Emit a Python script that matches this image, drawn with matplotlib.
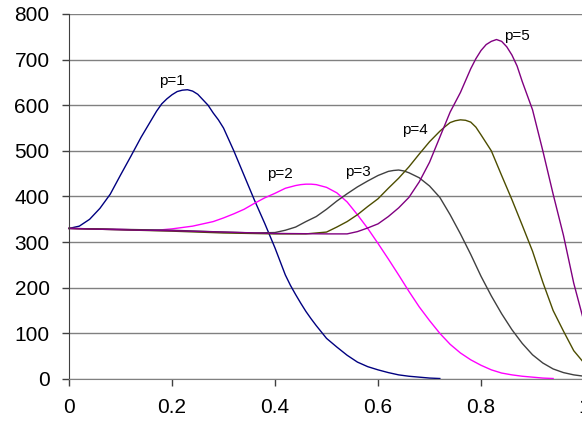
# Excel-style line chart: five p-curves over x in [0, 1]

import numpy as np
import matplotlib
matplotlib.use('Agg')
import matplotlib.pyplot as plt

plt.rcParams['font.family'] = ['Liberation Sans', 'DejaVu Sans']

# values
x_p1 = [0, 0.02, 0.04, 0.06, 0.08, 0.10, 0.12, 0.14, 0.16, 0.17, 0.18, 0.19, 0.20,
        0.21, 0.22, 0.23, 0.24, 0.25, 0.26, 0.27, 0.28, 0.29, 0.30, 0.32, 0.34,
        0.36, 0.38, 0.40, 0.42, 0.43, 0.44, 0.45, 0.46, 0.47, 0.48, 0.49, 0.50,
        0.52, 0.54, 0.56, 0.58, 0.60, 0.62, 0.64, 0.66, 0.68, 0.70, 0.72]
y_p1 = [330, 335, 350, 374, 405, 447, 488, 530, 568, 587, 603, 614, 623,
        630, 633, 634, 631, 624, 612, 600, 583, 568, 550, 500, 446,
        392, 341, 287, 228, 205, 185, 166, 148, 132, 117, 103, 89,
        70, 52, 37, 27, 20, 14, 9, 6, 4, 2, 1]

x_p2 = [0, 0.05, 0.10, 0.15, 0.18, 0.20, 0.22, 0.24, 0.26, 0.28, 0.30, 0.32, 0.34,
        0.36, 0.38, 0.40, 0.42, 0.44, 0.45, 0.46, 0.47, 0.48, 0.50, 0.52, 0.54,
        0.56, 0.58, 0.60, 0.62, 0.64, 0.66, 0.68, 0.70, 0.72, 0.74, 0.76, 0.78,
        0.80, 0.82, 0.84, 0.86, 0.88, 0.90, 0.92, 0.94]
y_p2 = [330, 329, 328, 326, 327, 329, 332, 335, 340, 345, 353, 362, 372,
        385, 397, 407, 418, 424, 426, 427, 427, 426, 420, 408, 388,
        360, 330, 297, 263, 228, 192, 158, 128, 100, 76, 57, 42,
        30, 20, 13, 9, 6, 4, 2, 1]

x_p3 = [0, 0.10, 0.20, 0.30, 0.36, 0.40, 0.42, 0.44, 0.46, 0.48, 0.50, 0.52, 0.54,
        0.56, 0.58, 0.60, 0.62, 0.63, 0.64, 0.65, 0.66, 0.68, 0.70, 0.72, 0.74,
        0.76, 0.78, 0.80, 0.82, 0.84, 0.86, 0.88, 0.90, 0.92, 0.94, 0.96, 0.98,
        1.00]
y_p3 = [330, 328, 326, 322, 320, 321, 326, 333, 345, 356, 372, 390, 406,
        421, 434, 446, 455, 457, 458, 456, 452, 441, 423, 398, 360,
        318, 273, 225, 182, 143, 108, 78, 53, 35, 22, 14, 9,
        6]

x_p4 = [0, 0.10, 0.20, 0.30, 0.40, 0.46, 0.50, 0.52, 0.54, 0.56, 0.58, 0.60, 0.62,
        0.64, 0.66, 0.68, 0.70, 0.72, 0.73, 0.74, 0.75, 0.76, 0.77, 0.78, 0.79,
        0.80, 0.82, 0.84, 0.86, 0.88, 0.90, 0.92, 0.94, 0.96, 0.98, 1.00]
y_p4 = [330, 327, 324, 320, 318, 318, 322, 333, 345, 360, 378, 395, 418,
        440, 465, 493, 520, 543, 553, 562, 566, 568, 567, 563, 552,
        535, 500, 446, 393, 337, 280, 212, 150, 105, 62, 35]

x_p5 = [0, 0.10, 0.20, 0.30, 0.40, 0.50, 0.54, 0.56, 0.58, 0.60, 0.62, 0.64, 0.66,
        0.68, 0.70, 0.72, 0.74, 0.76, 0.78, 0.79, 0.80, 0.81, 0.82, 0.83, 0.84,
        0.85, 0.86, 0.87, 0.88, 0.90, 0.92, 0.94, 0.96, 0.98, 1.00]
y_p5 = [330, 327, 325, 322, 319, 318, 318, 323, 331, 340, 356, 375, 398,
        432, 475, 530, 585, 628, 680, 702, 720, 733, 740, 744, 740,
        728, 710, 686, 652, 590, 500, 405, 315, 210, 125]

labels = ['p=1', 'p=2', 'p=3', 'p=4', 'p=5']
label_x = [0.20, 0.41, 0.561, 0.672, 0.87]
label_y = [653, 449, 454, 546, 751]
colors = ['#000080', '#FF00FF', '#404040', '#4D4D00', '#800080']

fig = plt.figure(figsize=(5.82, 4.29), dpi=100)
ax = fig.add_axes([0.1186, 0.1166, 0.8849, 0.8508])

ax.set_xlim(0, 1)
ax.set_ylim(0, 800)
ax.set_yticks(np.arange(0, 801, 100))
ax.set_xticks([0, 0.2, 0.4, 0.6, 0.8, 1.0])
ax.set_xticklabels(['0', '0.2', '0.4', '0.6', '0.8', '1'])
ax.yaxis.grid(True, color='#808080', linewidth=1.0)
ax.set_axisbelow(True)

series = [(x_p1, y_p1), (x_p2, y_p2), (x_p3, y_p3), (x_p4, y_p4), (x_p5, y_p5)]
for (xs, ys), c in zip(series, colors):
    ax.plot(xs, ys, color=c, linewidth=1.0, clip_on=False)

for lab, lx, ly in zip(labels, label_x, label_y):
    ax.text(lx, ly, lab, fontsize=11, ha='center', va='center', color='black')

for side in ['top', 'right']:
    ax.spines[side].set_visible(False)
ax.spines['left'].set_color('#404040')
ax.spines['bottom'].set_color('#808080')
ax.tick_params(axis='both', direction='out', length=5, width=1,
               color='#404040', labelsize=15, labelcolor='black')
ax.tick_params(axis='y', pad=9)
ax.tick_params(axis='x', pad=9)

fig.savefig('out.png', dpi=100)
